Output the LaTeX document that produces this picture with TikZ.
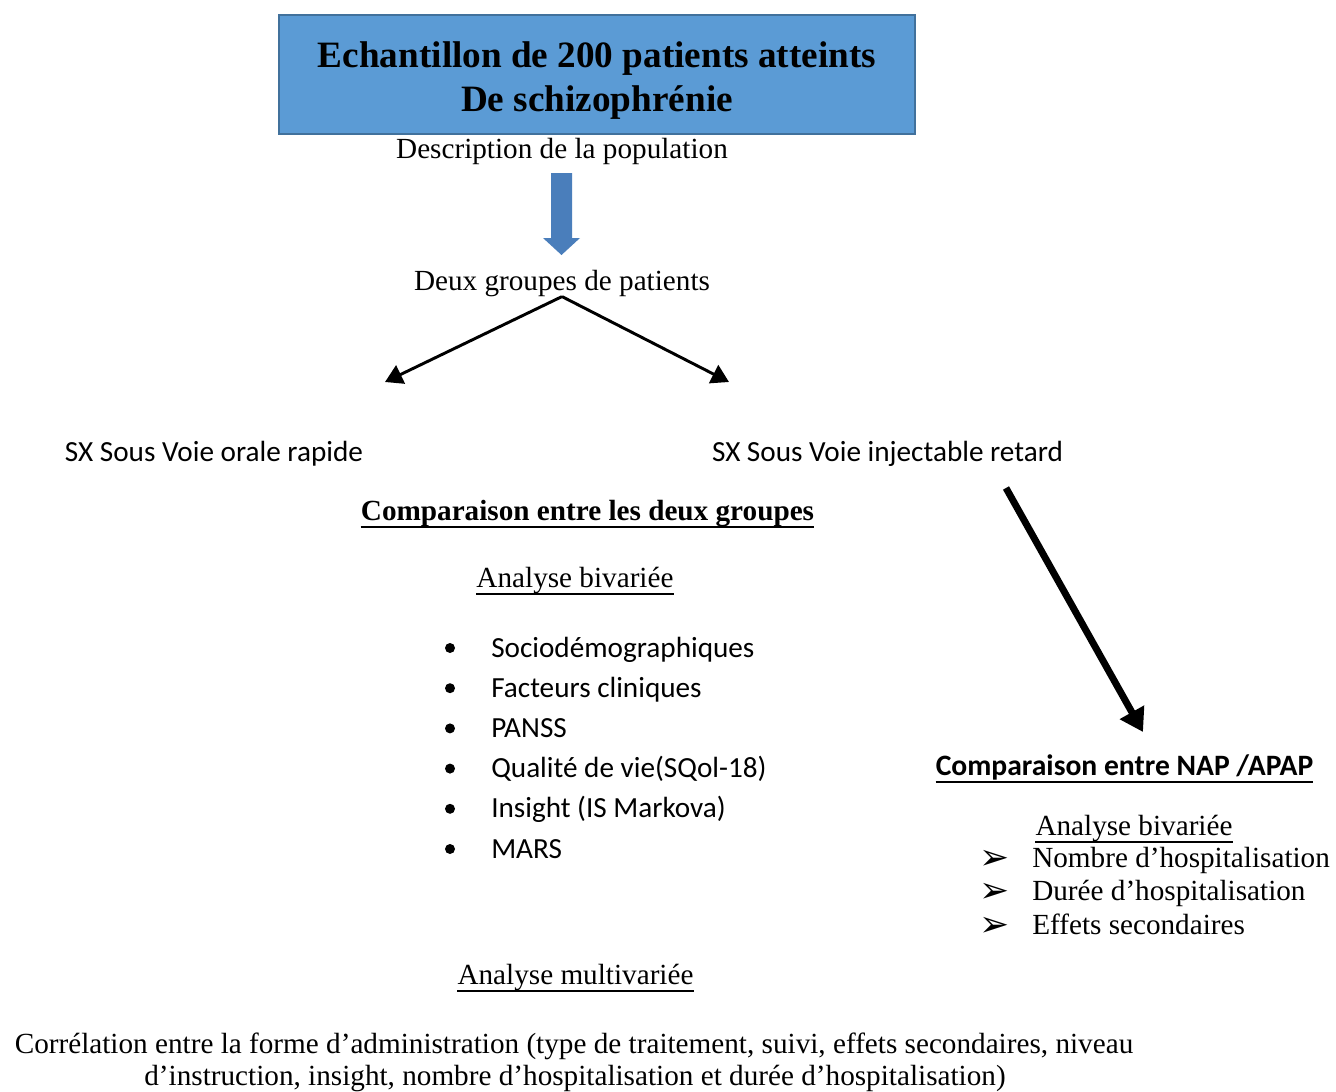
\documentclass[tikz,border=0pt]{standalone}
\usepackage{fontspec}
\setmainfont{Liberation Serif}
\newfontfamily\calib{Carlito}
\newfontfamily\djv{DejaVu Sans}
\usetikzlibrary{arrows.meta,positioning}
\definecolor{boxblue}{HTML}{5B9BD5}
\definecolor{boxedge}{HTML}{41719C}
\definecolor{arrblue}{HTML}{4A7EBB}

\begin{document}
\begin{tikzpicture}[x=0.75pt,y=-0.75pt,
  txt/.style={inner sep=0pt,anchor=base,font=\fontsize{21.9}{26}\selectfont},
  sans/.style={txt,font=\fontsize{21.9}{26}\selectfont\calib},
  titlebox/.style={draw=boxedge,fill=boxblue,line width=1.5pt,inner sep=0pt,
    minimum width=477pt,minimum height=89pt,align=center,
    font=\bfseries\fontsize{27.9}{33}\selectfont},
  dotmark/.style={circle,fill,inner sep=0pt,minimum size=7.5pt},
  thinarr/.style={line width=2.2pt,-{Triangle[length=13pt,width=15pt]}},
  bigarr/.style={line width=5.2pt,-{Triangle[length=17pt,width=20pt]}},
  uline/.style={line width=1.6pt}]

\fill[white] (0,0) rectangle (1336,1091);

\node[titlebox] (title) at (597,74.5) {\rule{0pt}{28pt}Echantillon de 200 patients atteints\\De schizophrénie};
\node[txt] (desc) at (562,158) {Description de la population};
\fill[arrblue] (551,173) -- (572,173) -- (572,238) -- (580,238) -- (561.5,255)
  -- (543,238) -- (551,238) -- cycle;
\node[txt] (grp) at (562,290) {Deux groupes de patients};

\coordinate (lend) at (385,382);
\coordinate (rend) at (729,382);
\draw[thinarr] (grp.south) -- (lend);
\draw[thinarr] (grp.south) -- (rend);

\node[sans] (oral) at (214,461) {SX Sous Voie orale rapide};
\node[sans] (inj) at (887.5,461) {SX Sous Voie injectable retard};

\node[txt,font=\bfseries\fontsize{21.9}{26}\selectfont] (cmp) at (587.5,520) {Comparaison entre les deux groupes};
\node[txt] (biv1) at (575,587) {Analyse bivariée};

\foreach \i / \element in {1/{Sociodémographiques},2/{Facteurs cliniques},3/{PANSS},
    4/{Qualité de vie(SQol-18)},5/{Insight (IS Markova)},6/{MARS}} {
  \node[dotmark] (dot\i) at (450,{648+40.2*(\i-1)}) {};
  \node[sans,anchor=base west] (item\i) at (491,{657+40.2*(\i-1)}) {\element};
}

\coordinate (bstart) at (1006,488);
\coordinate (bend) at (1143,732);
\draw[bigarr] (bstart) -- (bend);

\node[sans,font=\bfseries\fontsize{22.2}{26}\selectfont\calib] (nap) at (1124.5,775) {Comparaison entre NAP /APAP};
\node[txt] (biv2) at (1134,835) {Analyse bivariée};

\foreach \i / \element in {1/{Nombre d’hospitalisation},2/{Durée d’hospitalisation},3/{Effets secondaires}} {
  \node[txt,font=\fontsize{27}{30}\selectfont\djv] (tip\i) at (995,{869+33.5*(\i-1)}) {➢};
  \node[txt,anchor=base west] (out\i) at (1032,{867+33.5*(\i-1)}) {\element};
}

\node[txt] (multi) at (575.5,984) {Analyse multivariée};
\node[txt] (corr1) at (574,1053) {Corrélation entre la forme d’administration (type de traitement, suivi, effets secondaires, niveau};
\node[txt] (corr2) at (575,1085) {d’instruction, insight, nombre d’hospitalisation et durée d’hospitalisation)};

\foreach \n in {cmp,biv1,nap,biv2,multi}
  \draw[uline] ([yshift=-5pt]\n.base west) -- ([yshift=-5pt]\n.base east);

\end{tikzpicture}
\end{document}
